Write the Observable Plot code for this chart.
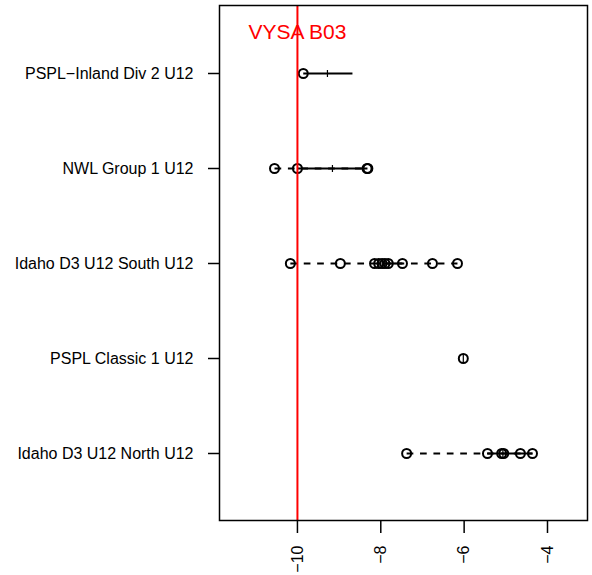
<!DOCTYPE html>
<html>
<head>
<meta charset="utf-8">
<script src="https://cdn.jsdelivr.net/npm/d3@7"></script>
<script src="https://cdn.jsdelivr.net/npm/@observablehq/plot@0.6"></script>
<style>
  html, body { margin: 0; padding: 0; background: #fff; }
  svg { font-family: "Liberation Sans", Arial, Helvetica, sans-serif; }
</style>
</head>
<body>
<div id="chart"></div>
<script>
// Categories (top to bottom)
const teams = [
  "PSPL\u2212Inland Div 2 U12",
  "NWL Group 1 U12",
  "Idaho D3 U12 South U12",
  "PSPL Classic 1 U12",
  "Idaho D3 U12 North U12"
];
// Individual scores per team
const inlandScores = [-9.86];
const nwlScores = [-10.55, -10.0, -8.33, -8.31];
const idahoSouthScores = [-10.17, -8.97, -8.15, -8.05, -7.97, -7.9, -7.82, -7.48, -6.76, -6.16];
const classicScores = [-6.02];
const idahoNorthScores = [-7.38, -5.44, -5.1, -5.05, -4.65, -4.36];
// Core range (solid segment) and centre mark per team
const coreLow  = [-9.86, -10.0, -7.9, -6.02, -5.44];
const coreHigh = [-8.68, -8.32, -7.48, -6.02, -4.36];
const centre   = [-9.28, -9.16, -7.95, -6.02, -5.07];
// Reference line
const refValue = -10;
const refLabel = "VYSA B03";
const xTicks = [-10, -8, -6, -4];

const scoreLists = [inlandScores, nwlScores, idahoSouthScores, classicScores, idahoNorthScores];
const points = teams.flatMap((t, i) => scoreLists[i].map(v => ({team: t, value: v})));
const ranges = teams.map((t, i) => ({team: t, min: d3.min(scoreLists[i]), max: d3.max(scoreLists[i])}));
const cores = teams.map((t, i) => ({team: t, lo: coreLow[i], hi: coreHigh[i], mid: centre[i]}));

const vtick = {
  draw(ctx, size) {
    const r = Math.sqrt(size / Math.PI) * 1.6;
    ctx.moveTo(0, -r); ctx.lineTo(0, r);
  }
};

const chart = Plot.plot({
  width: 592,
  height: 575,
  marginLeft: 219,
  marginRight: 5,
  marginTop: 5,
  marginBottom: 55,
  style: {fontSize: "16px", fontFamily: "'Liberation Sans', Arial, sans-serif", color: "black"},
  x: {domain: [-11.87, -3.04], label: null},
  y: {type: "point", domain: teams, padding: 0.7, label: null},
  marks: [
    Plot.axisY({tickSize: 11, tickPadding: 15, strokeWidth: 1.5, fontSize: 16}),
    Plot.axisX({ticks: xTicks, tickRotate: -90, tickSize: 13, tickPadding: 12, strokeWidth: 1.5, fontSize: 16}),
    Plot.link(ranges, {x1: "min", x2: "max", y1: "team", y2: "team", stroke: "black", strokeWidth: 1.8, strokeDasharray: "6.7,6.7"}),
    Plot.link(cores, {x1: "lo", x2: "hi", y1: "team", y2: "team", stroke: "black", strokeWidth: 2.2}),
    Plot.dot(cores, {x: "mid", y: "team", symbol: vtick, r: 2.2, stroke: "black", strokeWidth: 1.2}),
    Plot.dot(points, {x: "value", y: "team", r: 4.5, stroke: "black", strokeWidth: 2, fill: "none"}),
    Plot.ruleX([refValue], {stroke: "red", strokeWidth: 2}),
    Plot.text([refLabel], {x: () => refValue, frameAnchor: "top", dy: 19, fill: "red", fontSize: 21, textAnchor: "middle"}),
    Plot.frame({stroke: "black", strokeWidth: 1.5})
  ]
});
document.getElementById("chart").appendChild(chart);
</script>
</body>
</html>
